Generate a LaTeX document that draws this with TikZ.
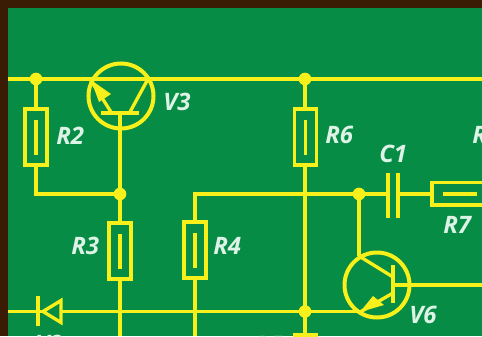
\documentclass[tikz,border=0pt]{standalone}
\usepackage{fontspec}
\setmainfont{Open Sans}
\definecolor{bgbrown}{HTML}{3A1C04}
\definecolor{pcb}{HTML}{078C46}
\definecolor{wire}{HTML}{F8F01A}
\definecolor{lbl}{HTML}{DDF3E6}
\tikzset{
  wireline/.style={draw=wire,line width=2.3pt},
  res/.style={draw=wire,line width=2.5pt},
  junction/.style={circle,fill=wire,inner sep=0pt,minimum size=9.5pt},
  lab/.style={text=lbl,font=\fontsize{18}{19}\selectfont\itshape\bfseries,inner sep=0pt},
  tran/.style={draw=wire,line width=2.5pt}
}
\begin{document}
\begin{tikzpicture}[x=0.75pt,y=-0.75pt]
\useasboundingbox (0,0) rectangle (482,336);
\fill[bgbrown] (0,0) rectangle (482,336);
\begin{scope}
\clip (0,0) rectangle (482,336);
\fill[pcb] (8,8) rectangle (482,336);
% named points
\coordinate (tl) at (8,79);
\coordinate (tr) at (482,79);
\coordinate (ml) at (8,311.5);
\coordinate (jr2) at (36,79);
\coordinate (j6t) at (305,79);
\coordinate (j6b) at (305,311.5);
\coordinate (jb) at (120,194);
\coordinate (jc) at (359,194);
\coordinate (cr4) at (195,194);
\coordinate (cr2) at (36,194);
\coordinate (b3) at (120,113);
\coordinate (e6) at (361,311.5);
\coordinate (c6) at (359,256);
\coordinate (b6) at (393,285);
\coordinate (out6) at (482,285);
\coordinate (bot1) at (120,336);
\coordinate (bot2) at (195,336);
\coordinate (bot3) at (305,336);
% wires
\draw[wireline] (tl) -- (tr);
\draw[wireline] (ml) -- (e6);
\draw[wireline] (jr2) -- (cr2) -- (jb);
\draw[wireline] (b3) -- (bot1);
\draw[wireline] (bot2) -- (cr4) -- (431,194);
\draw[wireline] (j6t) -- (bot3);
\draw[wireline] (jc) -- (c6);
\draw[wireline] (b6) -- (out6);
% resistors
\foreach \n/\x/\ya in {r2/36/108,r6/305.5/108,r3/120/222,r4/195/221}{
  \node[res,fill=pcb,minimum width=16.5pt,minimum height=42pt,inner sep=0pt] (\n) at (\x,\ya+29) {};
  \draw[wireline] (\x,\ya+12) -- (\x,\ya+47);
}
\node[res,fill=pcb,minimum width=16.5pt,minimum height=42pt,inner sep=0pt] (r5) at (305.5,363) {};
\draw[res,fill=pcb] (432,182.5) rectangle (500,205);
\draw[wireline] (443,194) -- (477,194);
% capacitor
\fill[pcb] (389,180) rectangle (397,208);
\draw[res] (388,173) -- (388,218);
\draw[res] (398,173) -- (398,218);
% diode
\draw[tran,fill=pcb,miter limit=3] (43,311.5) -- (61,300.5) -- (61,322.5) -- cycle;
\draw[tran] (38,296) -- (38,326);
% V3
\node[draw=wire,line width=3pt,circle,minimum size=48.75pt,inner sep=0pt] (v3) at (121,96) {};
\fill[pcb] (121,96) circle (10pt);
\draw[tran] (101,113) -- (139,113);
\draw[tran] (130,112) -- (148,79);
\draw[tran] (90,79) -- (111,112);
\fill[wire] (91,80) -- (111,94) -- (99,102) -- cycle;
% V6
\node[draw=wire,line width=3pt,circle,minimum size=48.75pt,inner sep=0pt] (v6) at (377,285) {};
\draw[tran] (393,265) -- (393,303);
\draw[tran] (359,256) -- (393,277);
\draw[tran] (361,311.5) -- (393,293);
\fill[wire] (360,312) -- (373,296) -- (384,305) -- cycle;
% junctions
\foreach \n/\p in {a/jr2,b/j6t,c/j6b,d/jb,e/jc}{
  \node[junction] (dot\n) at (\p) {};
}
% labels
\node[lab,anchor=west] (lr2) at (56,136) {R2};
\node[lab,anchor=west] (lv3) at (163,102) {V3};
\node[lab,anchor=west] (lr6) at (325,135) {R6};
\node[lab,anchor=west] (lc1) at (379,154) {C1};
\node[lab,anchor=west] (lr) at (472,135) {R};
\node[lab,anchor=west] (lr3) at (71,246) {R3};
\node[lab,anchor=west] (lr4) at (213,246) {R4};
\node[lab,anchor=west] (lr7) at (443,225) {R7};
\node[lab,anchor=west] (lv6) at (409,315) {V6};
\node[lab,anchor=west] (lv2) at (35,344) {V2};
\node[lab,anchor=west] (lr5) at (255,345) {R5};
\end{scope}
\end{tikzpicture}
\end{document}
